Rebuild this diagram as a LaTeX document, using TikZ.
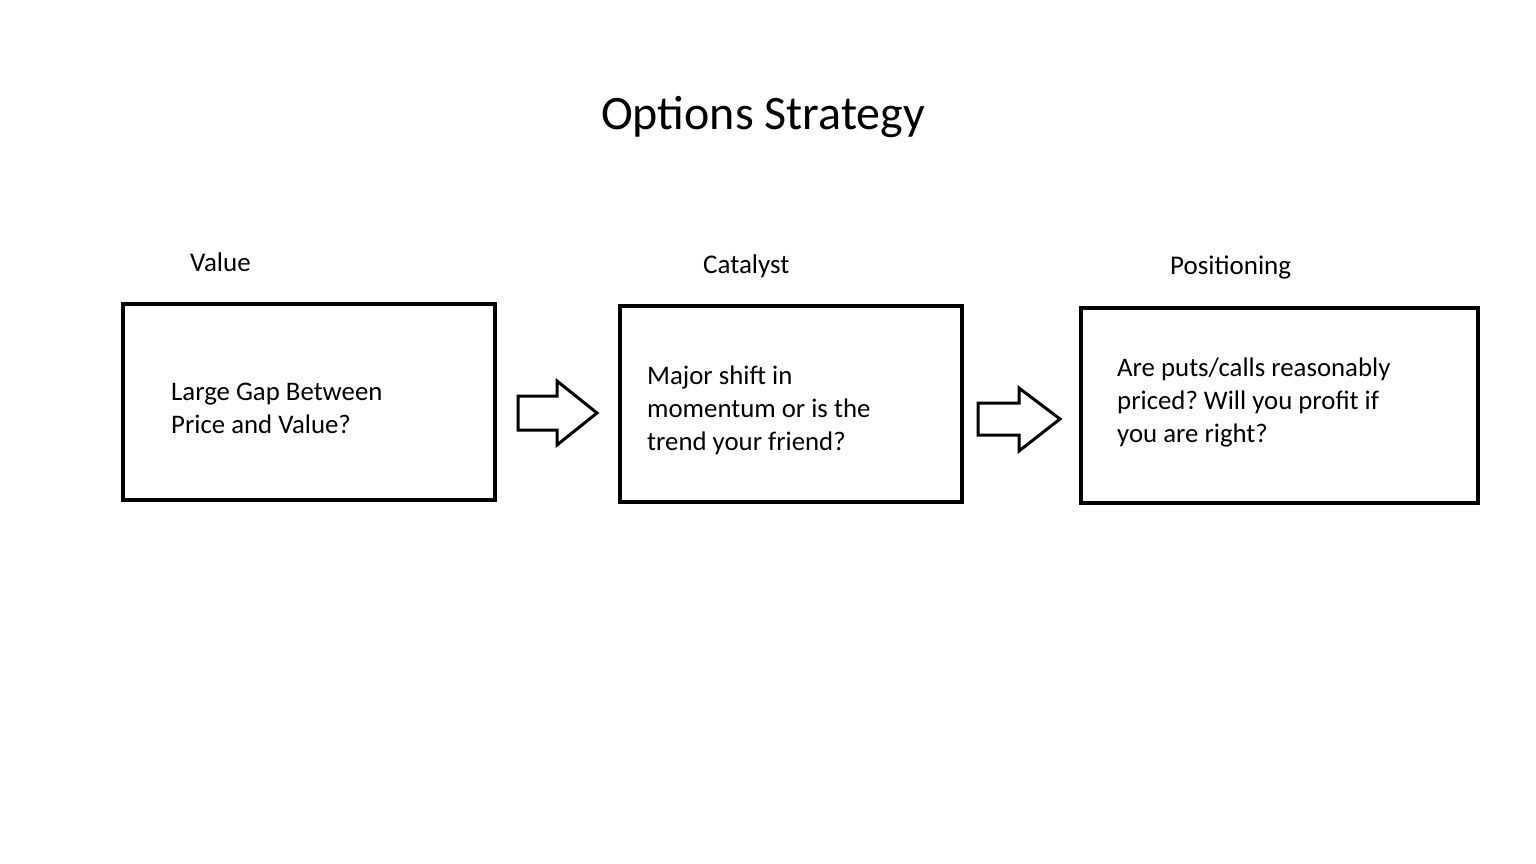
\documentclass[tikz,border=0pt]{standalone}
\usepackage{fontspec}
\setmainfont{Carlito}
\frenchspacing
\begin{document}
\begin{tikzpicture}[x=1pt,y=-1pt,
  box/.style={draw=black,line width=4.5pt},
  blockarrow/.style={draw=black,line width=3pt,line join=miter,fill=white},
  body/.style={anchor=base west,inner sep=0pt,align=left,font=\fontsize{26.8}{33}\selectfont},
  label/.style={anchor=base west,inner sep=0pt,font=\fontsize{27}{32}\selectfont},
  ttl/.style={anchor=base,inner sep=0pt,font=\fontsize{48}{56}\selectfont}]
\useasboundingbox[fill=white] (0,0) rectangle (1536,864);
\node[ttl] (title) at (763,130) {Options Strategy};
\node[label] (lv) at (190,271) {Value};
\node[label] (lc) at (703,273) {Catalyst};
\node[label] (lp) at (1170,274) {Positioning};
\draw[box] (123,304) rectangle (495,500);
\draw[box] (620,306) rectangle (962,502);
\draw[box] (1081,308) rectangle (1478,503);
\node[body] (t1) at (171,433) {Large Gap Between\\Price and Value?};
\node[body] (t2) at (647,450) {Major shift in\\momentum or is the\\trend your friend?};
\node[body] (t3) at (1117,442) {Are puts/calls reasonably\\priced? Will you profit if\\you are right?};
\draw[blockarrow] (518,396) -- (557,396) -- (557,381) -- (597,413) -- (557,445) -- (557,430) -- (518,430) -- cycle;
\draw[blockarrow] (978,403) -- (1019,403) -- (1019,388) -- (1060,419) -- (1019,451) -- (1019,435) -- (978,435) -- cycle;
\end{tikzpicture}
\end{document}
